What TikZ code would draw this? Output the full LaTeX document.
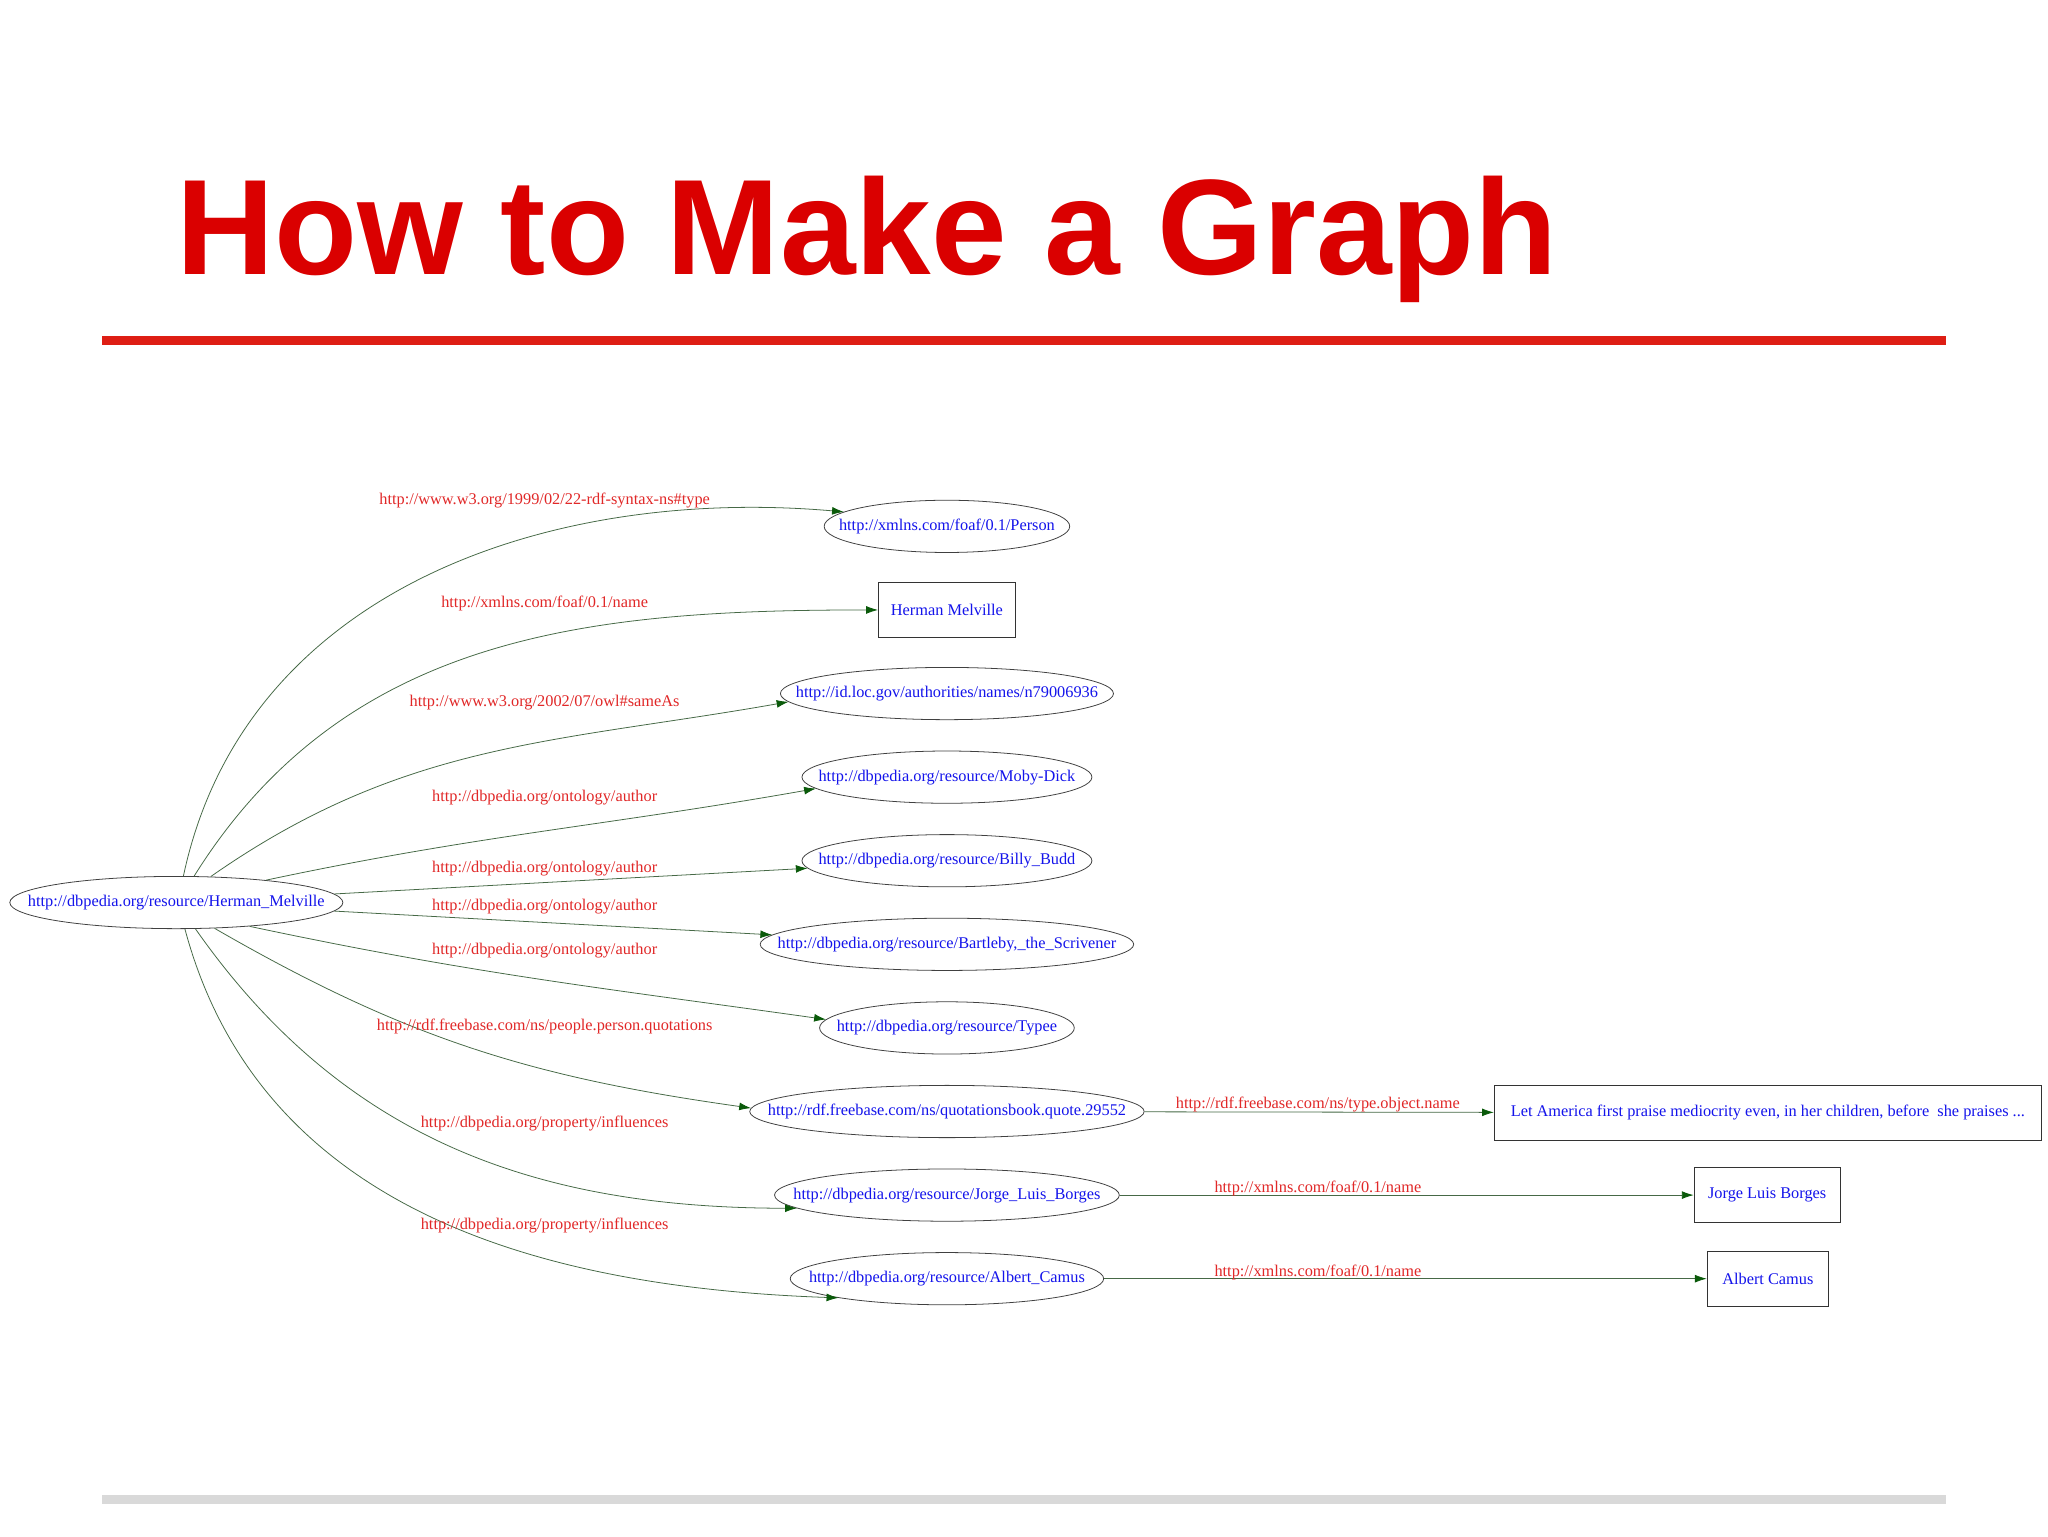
\documentclass[tikz,border=0pt]{standalone}
\usepackage{fontspec}
\setmainfont{Liberation Serif}
\newfontfamily\titlefont{Liberation Sans}
\usetikzlibrary{shapes.geometric,arrows.meta}
\definecolor{titlered}{RGB}{218,0,0}
\definecolor{rulered}{RGB}{222,30,20}
\definecolor{edgegreen}{RGB}{70,105,70}
\definecolor{tipgreen}{RGB}{10,90,10}
\definecolor{labred}{RGB}{225,40,40}
\definecolor{nodeblue}{RGB}{20,20,235}
\newcommand{\zb}[1]{\makebox[0pt]{#1}}
\begin{document}
\begin{tikzpicture}[x=1pt,y=1pt,
  res/.style={ellipse,draw=black!75,line width=0.6pt,inner sep=0pt,minimum height=40pt,text=nodeblue,font=\fontsize{12.5}{13}\selectfont},
  lit/.style={rectangle,draw=black!80,line width=0.6pt,inner sep=0pt,minimum height=42pt,text=nodeblue,font=\fontsize{12.5}{13}\selectfont},
  lab/.style={text=labred,inner sep=0pt,font=\fontsize{12.5}{13}\selectfont},
  edge/.style={draw=edgegreen,line width=0.6pt,-{Latex[length=9pt,width=6pt,color=tipgreen,fill=tipgreen]}}]
\useasboundingbox (0,0) rectangle (1568,1176);
\fill[white] (0,0) rectangle (1568,1176);
\node[anchor=base west,inner sep=0pt,text=titlered,font=\titlefont\bfseries\fontsize{104}{106}\selectfont] (title) at (135,966) {How to Make a Graph};
\fill[rulered] (78,911.5) rectangle (1490,918.5);
\fill[black!15] (78,24.5) rectangle (1490,31.5);

\node[res,minimum width=255pt] (hm) at (135,485) {\zb{http://dbpedia.org/resource/Herman\_Melville}};
\node[res,minimum width=188pt] (person) at (725,773) {\zb{http://xmlns.com/foaf/0.1/Person}};
\node[lit,minimum width=105pt] (name) at (725,709) {\zb{Herman Melville}};
\node[res,minimum width=255pt] (loc) at (725,645) {\zb{http://id.loc.gov/authorities/names/n79006936}};
\node[res,minimum width=222pt] (moby) at (725,581) {\zb{http://dbpedia.org/resource/Moby-Dick}};
\node[res,minimum width=222pt] (billy) at (725,517) {\zb{http://dbpedia.org/resource/Billy\_Budd}};
\node[res,minimum width=286pt] (bart) at (725,453) {\zb{http://dbpedia.org/resource/Bartleby,\_the\_Scrivener}};
\node[res,minimum width=195pt] (typee) at (725,389) {\zb{http://dbpedia.org/resource/Typee}};
\node[res,minimum width=302pt] (quote) at (725,325) {\zb{http://rdf.freebase.com/ns/quotationsbook.quote.29552}};
\node[res,minimum width=264pt] (borges) at (725,261) {\zb{http://dbpedia.org/resource/Jorge\_Luis\_Borges}};
\node[res,minimum width=240pt] (camus) at (725,197) {\zb{http://dbpedia.org/resource/Albert\_Camus}};
\node[lit,minimum width=419pt] (qbox) at (1353.5,324) {\zb{Let America first praise mediocrity even, in her children, before\ \ she praises ...}};
\node[lit,minimum width=112pt] (jlb) at (1353,261) {\zb{Jorge Luis Borges}};
\node[lit,minimum width=93pt] (ac) at (1353.5,197) {\zb{Albert Camus}};

\draw[edge] (hm.75) to[out=78,in=175] (person.172);
\draw[edge] (hm.56) to[out=58,in=180] (name.west);
\draw[edge] (hm.37) to[out=35,in=190] (loc.183);
\draw[edge] (hm.14) to[out=12,in=190] (moby.185);
\draw[edge] (hm) -- (billy);
\draw[edge] (hm) -- (bart);
\draw[edge] (hm.-18) to[out=-12,in=172] (typee.176);
\draw[edge] (hm.-34) to[out=-30,in=172] (quote.179);
\draw[edge] (hm.-54) to[out=-55,in=180] (borges.185);
\draw[edge] (hm.-72) to[out=-75,in=178] (camus.190);
\draw[edge] (quote) -- (qbox);
\draw[edge] (borges) -- (jlb);
\draw[edge] (camus) -- (ac);

\node[lab] (l1) at (417,793) {http://www.w3.org/1999/02/22-rdf-syntax-ns\#type};
\node[lab] (l2) at (417,714) {http://xmlns.com/foaf/0.1/name};
\node[lab] (l3) at (417,638) {http://www.w3.org/2002/07/owl\#sameAs};
\node[lab] (l4) at (417,565) {http://dbpedia.org/ontology/author};
\node[lab] (l5) at (417,511) {http://dbpedia.org/ontology/author};
\node[lab] (l6) at (417,482) {http://dbpedia.org/ontology/author};
\node[lab] (l7) at (417,448) {http://dbpedia.org/ontology/author};
\node[lab] (l8) at (417,390) {http://rdf.freebase.com/ns/people.person.quotations};
\node[lab] (l9) at (417,316) {http://dbpedia.org/property/influences};
\node[lab] (l10) at (417,238) {http://dbpedia.org/property/influences};
\node[lab] (l11) at (1009,330) {http://rdf.freebase.com/ns/type.object.name};
\node[lab] (l12) at (1009,266) {http://xmlns.com/foaf/0.1/name};
\node[lab] (l13) at (1009,202) {http://xmlns.com/foaf/0.1/name};
\end{tikzpicture}
\end{document}
